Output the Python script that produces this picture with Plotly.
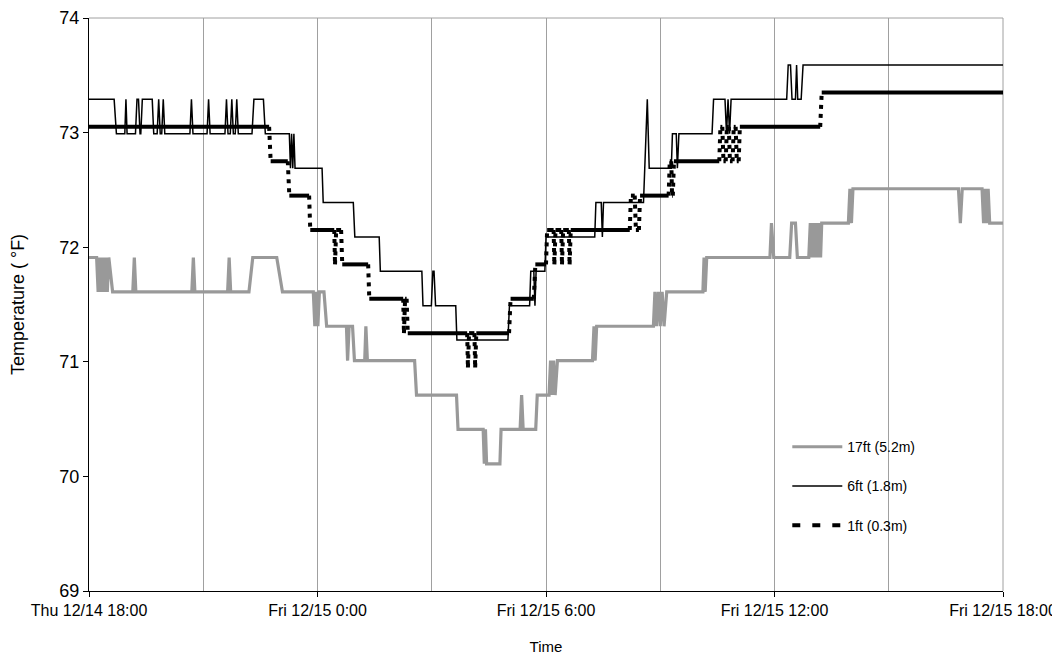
import pandas as pd
import plotly.graph_objects as go

# ---------------- data (hours after Thu 12/14 18:00, temperature °F) ----------------
start = pd.Timestamp("2006-12-14 18:00")

t_17ft = [0, 0.20, 0.24, 0.28, 0.32, 0.36, 0.40, 0.44, 0.48, 0.52, 0.62,
          1.15, 1.19, 1.23, 2.70, 2.74, 2.78, 3.64, 3.68, 3.72, 4.20, 4.30, 4.93, 5.08,
          5.89, 5.93, 5.97, 6.01, 6.05, 6.17, 6.24, 6.76, 6.79, 6.83, 6.92, 6.97,
          7.24, 7.27, 7.31, 8.55, 8.60, 9.65, 9.69, 10.35, 10.38, 10.41, 10.44,
          10.79, 10.82, 11.32, 11.36, 11.40, 11.73, 11.77, 12.08, 12.12, 12.16, 12.20,
          12.24, 12.30, 13.22, 13.26, 13.29, 13.33, 14.82, 14.86, 14.90, 14.95, 15.00,
          15.05, 15.10, 15.17, 16.12, 16.15, 16.18, 16.22, 17.88, 17.92, 17.98,
          18.40, 18.45, 18.55, 18.60, 18.90, 18.94, 18.98, 19.02, 19.06, 19.10, 19.14,
          19.18, 19.21, 19.24, 19.94, 19.98, 20.02, 20.06, 22.83, 22.88, 22.93,
          23.45, 23.49, 23.53, 23.57, 23.61, 23.65, 24]
v_17ft = [71.91, 71.91, 71.61, 71.91, 71.61, 71.91, 71.61, 71.91, 71.61, 71.91, 71.61,
          71.61, 71.91, 71.61, 71.61, 71.91, 71.61, 71.61, 71.91, 71.61, 71.61, 71.91, 71.91, 71.61,
          71.61, 71.31, 71.61, 71.31, 71.61, 71.61, 71.31, 71.31, 71.01, 71.31, 71.31, 71.01,
          71.01, 71.31, 71.01, 71.01, 70.71, 70.71, 70.41, 70.41, 70.11, 70.41, 70.11,
          70.11, 70.41, 70.41, 70.71, 70.41, 70.41, 70.71, 70.71, 71.01, 70.71, 71.01,
          70.71, 71.01, 71.01, 71.31, 71.01, 71.31, 71.31, 71.61, 71.31, 71.61, 71.31,
          71.61, 71.31, 71.61, 71.61, 71.91, 71.61, 71.91, 71.91, 72.21, 71.91,
          71.91, 72.21, 72.21, 71.91, 71.91, 72.21, 71.91, 72.21, 71.91, 72.21, 71.91,
          72.21, 71.91, 72.21, 72.21, 72.51, 72.21, 72.51, 72.51, 72.21, 72.51,
          72.51, 72.21, 72.51, 72.21, 72.51, 72.21, 72.21]

t_6ft = [0, 0.66, 0.72, 0.94, 0.97, 1.00, 1.22, 1.26, 1.30, 1.34, 1.36, 1.40, 1.66, 1.70,
         1.79, 1.83, 1.87, 1.91, 1.95, 1.99, 2.65, 2.69, 2.73, 3.10, 3.14, 3.18,
         3.57, 3.61, 3.65, 3.71, 3.75, 3.79, 3.84, 3.88, 3.92, 4.28, 4.33, 4.58, 4.63,
         5.26, 5.29, 5.32, 5.35, 5.38, 5.41, 6.12, 6.15, 6.94, 6.98, 7.62, 7.65,
         8.74, 8.77, 8.99, 9.03, 9.06, 9.10, 9.63, 9.66, 11.00, 11.04, 11.57, 11.60,
         11.68, 11.71, 11.74, 11.97, 12.00, 13.28, 13.31, 13.45, 13.48, 13.51,
         14.56, 14.66, 14.71, 15.29, 15.32, 15.42, 15.45, 15.49, 16.36, 16.40,
         16.70, 16.74, 16.78, 16.82, 16.86, 18.32, 18.36, 18.42, 18.46, 18.55, 18.58,
         18.61, 18.70, 18.75, 24]
v_6ft = [73.29, 73.29, 72.99, 72.99, 73.29, 72.99, 72.99, 73.29, 73.29, 72.99, 72.99, 73.29, 73.29, 72.99,
         72.99, 73.29, 72.99, 72.99, 73.29, 72.99, 72.99, 73.29, 72.99, 72.99, 73.29, 72.99,
         72.99, 73.29, 72.99, 72.99, 73.29, 72.99, 72.99, 73.29, 72.99, 72.99, 73.29, 73.29, 72.99,
         72.99, 72.69, 72.99, 72.69, 72.99, 72.69, 72.69, 72.39, 72.39, 72.09, 72.09, 71.79,
         71.79, 71.49, 71.49, 71.79, 71.79, 71.49, 71.49, 71.19, 71.19, 71.49, 71.49, 71.79,
         71.79, 71.49, 71.79, 71.79, 72.09, 72.09, 72.39, 72.39, 72.09, 72.39,
         72.39, 73.29, 72.69, 72.69, 72.99, 72.99, 72.69, 72.99, 72.99, 73.29,
         73.29, 72.99, 73.29, 72.99, 73.29, 73.29, 73.59, 73.59, 73.29, 73.29, 73.59,
         73.29, 73.29, 73.59, 73.59]

t_1ft = [0, 4.73, 4.77, 5.22, 5.26, 5.78, 5.81, 6.44, 6.46, 6.49, 6.62, 6.65,
         7.33, 7.36, 8.25, 8.27, 8.30, 8.34, 8.37, 9.93, 9.95, 9.98, 10.12, 10.14, 10.17,
         11.03, 11.07, 11.68, 11.72, 12.00, 12.03, 12.20, 12.22, 12.25, 12.40, 12.42, 12.45,
         12.60, 12.62, 12.65, 14.20, 14.23, 14.33, 14.36, 14.44, 14.47,
         15.22, 15.25, 15.29, 15.31, 15.33, 15.36, 16.55, 16.58, 16.63, 16.66, 16.72,
         16.75, 16.80, 16.83, 16.90, 16.93, 16.98, 17.01, 17.06, 17.09, 19.20, 19.24, 24]
v_1ft = [73.05, 73.05, 72.75, 72.75, 72.45, 72.45, 72.15, 72.15, 71.85, 72.15, 72.15, 71.85,
         71.85, 71.55, 71.55, 71.25, 71.55, 71.55, 71.25, 71.25, 70.95, 71.25, 71.25, 70.95, 71.25,
         71.25, 71.55, 71.55, 71.85, 71.85, 72.15, 72.15, 71.85, 72.15, 72.15, 71.85, 72.15,
         72.15, 71.85, 72.15, 72.15, 72.45, 72.45, 72.15, 72.15, 72.45,
         72.45, 72.75, 72.75, 72.45, 72.45, 72.75, 72.75, 73.05, 73.05, 72.75, 72.75,
         73.05, 73.05, 72.75, 72.75, 73.05, 73.05, 72.75, 72.75, 73.05, 73.05, 73.35, 73.35]

series_names = ["17ft (5.2m)", "6ft (1.8m)", "1ft (0.3m)"]
tick_hours = [0, 6, 12, 18, 24]
tick_labels = ["Thu 12/14 18:00", "Fri 12/15 0:00", "Fri 12/15 6:00",
               "Fri 12/15 12:00", "Fri 12/15 18:00"]
minor_hours = [3, 9, 15, 21]


def to_time(hours):
    return [start + pd.Timedelta(hours=h) for h in hours]


def split_runs(t, v):
    """Separate level holds (drawn solid) from level changes (drawn dotted)."""
    hx, hy, cx, cy = [], [], [], []
    for i in range(len(t) - 1):
        if v[i] == v[i + 1]:
            hx += [t[i], t[i + 1], None]
            hy += [v[i], v[i + 1], None]
        else:
            cx += [t[i], t[i + 1], None]
            cy += [v[i], v[i + 1], None]
    return hx, hy, cx, cy


def conv(lst):
    return [None if h is None else start + pd.Timedelta(hours=h) for h in lst]


FONT = "Liberation Sans, Arial, sans-serif"

fig = go.Figure()
fig.add_trace(go.Scatter(x=to_time(t_17ft), y=v_17ft, mode="lines", name=series_names[0],
                         line=dict(color="#999999", width=3.2), legendgroup="a"))
fig.add_trace(go.Scatter(x=to_time(t_6ft), y=v_6ft, mode="lines", name=series_names[1],
                         line=dict(color="#000000", width=1.5), legendgroup="b"))

hx, hy, cx, cy = split_runs(t_1ft, v_1ft)
fig.add_trace(go.Scatter(x=conv(hx), y=hy, mode="lines", showlegend=False, hoverinfo="skip",
                         line=dict(color="#000000", width=4)))
fig.add_trace(go.Scatter(x=conv(cx), y=cy, mode="lines", showlegend=False, hoverinfo="skip",
                         line=dict(color="#000000", width=4, dash="4px,5px")))
fig.add_trace(go.Scatter(x=[None], y=[None], mode="lines", name=series_names[2],
                         line=dict(color="#000000", width=4, dash="8px,12px"), legendgroup="c"))

# the page places the figure 8px from the window's top-left corner
fig.update_layout(
    width=1060, height=663,
    margin=dict(l=81, r=65, t=10, b=80),
    plot_bgcolor="white", paper_bgcolor="white",
    font=dict(family=FONT, color="#000000", size=14),
    legend=dict(x=0.764, y=0.279, xanchor="left", yanchor="top",
                bgcolor="rgba(0,0,0,0)", tracegroupgap=18, itemwidth=50,
                font=dict(family=FONT, size=14)),
    shapes=[
        dict(type="line", xref="paper", yref="paper", x0=0, x1=1, y0=1, y1=1,
             line=dict(color="#a0a0a0", width=1), layer="below"),
        dict(type="line", xref="paper", yref="paper", x0=1, x1=1, y0=0, y1=1,
             line=dict(color="#a0a0a0", width=1), layer="below"),
    ],
)

fig.update_xaxes(
    type="date", range=[start, start + pd.Timedelta(hours=24)],
    tickmode="array", tickvals=to_time(tick_hours), ticktext=tick_labels,
    ticks="outside", ticklen=5, tickcolor="#000000",
    showline=True, linecolor="#000000", linewidth=1,
    showgrid=True, gridcolor="#a0a0a0", gridwidth=1,
    minor=dict(tickmode="array", tickvals=to_time(minor_hours), showgrid=True,
               gridcolor="#a0a0a0", gridwidth=1, ticks=""),
    tickfont=dict(family=FONT, size=16),
    title=dict(text="Time", font=dict(family=FONT, size=15), standoff=23),
    zeroline=False, automargin=False,
)
fig.update_yaxes(
    range=[69, 74], tickmode="linear", tick0=69, dtick=1,
    ticks="outside", ticklen=5, tickcolor="#000000",
    showline=True, linecolor="#000000", linewidth=1,
    showgrid=False, zeroline=False,
    tickfont=dict(family=FONT, size=18),
    title=dict(text="Temperature ( °F)", font=dict(family=FONT, size=18), standoff=30),
    automargin=False,
)

fig.write_html("out.html")
